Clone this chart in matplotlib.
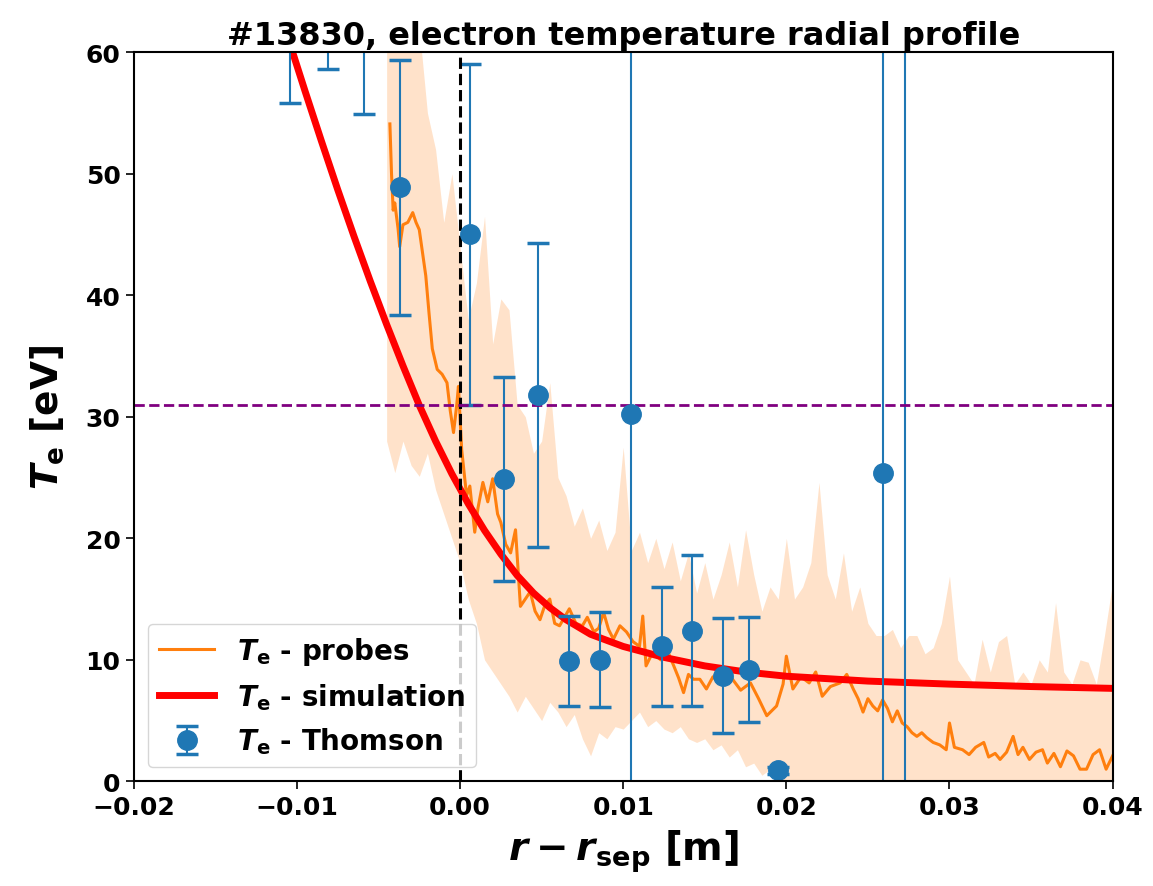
import numpy as np
import matplotlib
matplotlib.use('Agg')
import matplotlib.pyplot as plt

### Data (shot #13830)

# Thomson scattering points: position [m], Te [eV], symmetric error [eV]
thomson_r = [-0.0104, -0.0081, -0.0059, -0.0037, 0.0006, 0.0027, 0.0048, 0.0067, 0.0086,
             0.0105, 0.0124, 0.0142, 0.0161, 0.0177, 0.0195, 0.0259, 0.0273]
thomson_te = [70.0, 66.0, 68.0, 48.9, 45.0, 24.9, 31.8, 9.9, 10.0,
              30.2, 11.1, 12.4, 8.7, 9.2, 0.9, 25.4, 70.0]
thomson_err = [14.2, 7.4, 13.1, 10.5, 14.0, 8.4, 12.5, 3.7, 3.9,
               80.0, 4.9, 6.2, 4.7, 4.3, 0.3, 80.0, 90.0]

# simulation profile
sim_r = [-0.0105, -0.0095, -0.0085, -0.0075, -0.0065, -0.0055, -0.0045, -0.0035, -0.0025, -0.0015,
         -0.0005, 0.0005, 0.0015, 0.0025, 0.0035, 0.0045, 0.0055, 0.0065, 0.0080, 0.0100,
         0.0125, 0.0150, 0.0175, 0.0200, 0.0250, 0.0300, 0.0350, 0.0400]
sim_te = [61.0, 56.8, 52.7, 48.7, 44.85, 41.15, 37.6, 34.2, 30.95, 28.0,
          25.3, 22.85, 20.65, 18.7, 16.95, 15.5, 14.3, 13.3, 12.1, 11.1,
          10.2, 9.5, 9.0, 8.65, 8.25, 8.0, 7.8, 7.65]

# probes, smoothed signal
probe_r = [-0.0043, -0.0042, -0.0041, -0.0040, -0.0038, -0.0037, -0.0035, -0.0032, -0.0029, -0.0027,
           -0.0025, -0.0023, -0.0021, -0.0019, -0.0017, -0.0014, -0.0011, -0.0008, -0.0006, -0.0004,
           -0.0002, -0.0001, 0.0001, 0.0004, 0.0006, 0.0009, 0.0011, 0.0014, 0.0017, 0.0020,
           0.0023, 0.0025, 0.0028, 0.0031, 0.0034, 0.0037, 0.0040, 0.0043, 0.0046, 0.0049,
           0.0052, 0.0055, 0.0058, 0.0061, 0.0064, 0.0067, 0.0071, 0.0075, 0.0078, 0.0082,
           0.0085, 0.0088, 0.0091, 0.0094, 0.0098, 0.0102, 0.0106, 0.0110, 0.0112, 0.0114,
           0.0118, 0.0123, 0.0127, 0.0131, 0.0134, 0.0137, 0.0140, 0.0143, 0.0147, 0.0151,
           0.0155, 0.0159, 0.0163, 0.0167, 0.0172, 0.0178, 0.0183, 0.0188, 0.0194, 0.0198,
           0.0200, 0.0204, 0.0209, 0.0214, 0.0218, 0.0222, 0.0227, 0.0233, 0.0237, 0.0241,
           0.0244, 0.0247, 0.0250, 0.0253, 0.0256, 0.0259, 0.0262, 0.0265, 0.0268, 0.0271,
           0.0274, 0.0277, 0.0280, 0.0283, 0.0286, 0.0290, 0.0294, 0.0298, 0.0300, 0.0303,
           0.0308, 0.0312, 0.0316, 0.0321, 0.0324, 0.0328, 0.0331, 0.0335, 0.0339, 0.0342,
           0.0345, 0.0349, 0.0353, 0.0357, 0.0360, 0.0364, 0.0368, 0.0372, 0.0376, 0.0380,
           0.0384, 0.0388, 0.0392, 0.0396, 0.0400]
probe_te = [54.1, 50.0, 47.0, 47.6, 45.5, 44.0, 45.8, 46.0, 46.8, 46.0,
            45.4, 43.5, 41.6, 38.5, 35.6, 33.9, 33.5, 32.8, 30.5, 28.7,
            31.0, 32.5, 27.3, 23.5, 24.3, 20.5, 22.5, 24.6, 23.0, 24.9,
            22.0, 21.3, 19.5, 18.8, 20.7, 14.4, 15.0, 15.6, 14.0, 13.3,
            14.5, 15.0, 13.0, 12.8, 13.5, 14.2, 13.0, 12.8, 13.5, 12.3,
            12.6, 13.9, 12.5, 11.7, 12.8, 12.3, 11.5, 11.1, 13.6, 9.5,
            10.6, 10.0, 10.8, 9.5, 8.5, 7.3, 8.8, 8.4, 8.4, 7.6,
            8.6, 8.1, 9.0, 8.4, 7.5, 8.1, 6.8, 5.4, 6.2, 8.0,
            10.3, 7.6, 8.6, 8.1, 9.0, 7.0, 7.8, 8.1, 8.8, 7.6,
            6.8, 5.7, 6.8, 6.2, 5.8, 6.7, 6.0, 4.9, 5.8, 4.8,
            4.5, 4.0, 3.7, 4.0, 3.6, 3.2, 3.0, 2.6, 4.8, 2.8,
            2.6, 2.2, 2.8, 3.2, 2.0, 2.3, 1.8, 2.4, 3.7, 2.2,
            2.8, 1.8, 2.4, 2.6, 1.5, 2.3, 1.2, 2.5, 2.1, 1.0,
            1.0, 2.2, 2.6, 1.0, 2.1]

# probes, raw signal spread (upper / lower envelope, every 0.5 mm from -4.5 mm)
band_hi = [62, 62, 62, 62, 62, 55, 52, 46, 50, 44,
           38, 41, 46.5, 36, 39.7, 38.8, 31, 30, 27, 28,
           32.8, 25, 23.5, 21, 22.5, 20, 21.5, 19, 20.5, 27.5,
           19, 20.5, 18, 20, 17.5, 19.7, 16.5, 18.8, 15.5, 18,
           15, 17, 19.7, 16, 20.7, 17, 14, 16, 15, 20,
           15, 16, 18, 24.6, 17, 15, 18.8, 14, 16, 13,
           12, 12, 12.5, 11, 12, 12, 10.5, 11, 13, 16.9,
           10, 9, 8, 11.7, 9, 11.5, 12, 8, 9, 8,
           10, 9, 14.7, 9, 8, 10, 9.8, 8, 12, 16.4]
band_lo = [28, 25.4, 28, 26, 25.1, 27, 24, 22, 20, 18,
           15, 13, 10, 9, 8, 7, 5.7, 7, 6, 5,
           6.5, 5.7, 4.5, 5.5, 3.5, 2.1, 4, 3.5, 4.5, 4.3,
           5, 5.7, 4.5, 5, 4.3, 4, 4.5, 3.5, 3.2, 3.5,
           2.6, 3, 2, 2.6, 1.2, 1.5, 0.5, 1, 0, 0,
           0, 0, 0, 0, 0, 0, 0, 0, 0, 0,
           0, 0, 0, 0, 0, 0, 0, 0, 0, 0,
           0, 0, 0, 0, 0, 0, 0, 0, 0, 0,
           0, 0, 0, 0, 0, 0, 0, 0, 0, 0]
band_r = np.linspace(-0.0045, 0.04, len(band_hi))

te_threshold = 31.0  # horizontal reference level [eV]

### Plot
plt.rcParams['font.weight'] = 'bold'
plt.rcParams['axes.labelweight'] = 'bold'
plt.rcParams['axes.titleweight'] = 'bold'
plt.rcParams['mathtext.fontset'] = 'dejavusans'

fig, ax = plt.subplots(figsize=(11.53, 8.87), dpi=100)
fig.subplots_adjust(left=0.116, right=0.965, bottom=0.118, top=0.940)

ax.fill_between(band_r, band_lo, band_hi, color='C1', alpha=0.22, lw=0)
ax.plot(probe_r, probe_te, color='C1', lw=2.2, label=r'$\mathbfit{T}_\mathbf{e}$ - probes')
ax.plot(sim_r, sim_te, color='red', lw=5, label=r'$\mathbfit{T}_\mathbf{e}$ - simulation')
ax.errorbar(thomson_r, thomson_te, yerr=thomson_err, fmt='o', color='C0', ms=14,
            capsize=8, capthick=2.5, elinewidth=1.5, label=r'$\mathbfit{T}_\mathbf{e}$ - Thomson')

ax.axvline(0, color='black', ls='--', lw=2.2)
ax.axhline(te_threshold, color='purple', ls='--', lw=2)

ax.set_xlim(-0.02, 0.04)
ax.set_ylim(0, 60)
ax.set_xticks([-0.02, -0.01, 0.0, 0.01, 0.02, 0.03, 0.04])
ax.set_yticks([0, 10, 20, 30, 40, 50, 60])
ax.tick_params(axis='both', which='major', labelsize=18, length=6, width=1.2)
for s in ax.spines.values():
    s.set_linewidth(1.5)

ax.set_title('#13830, electron temperature radial profile', fontsize=23)
ax.set_xlabel(r'$\mathbfit{r} - \mathbfit{r}_\mathbf{sep}$ [m]', fontsize=28, labelpad=6)
ax.set_ylabel(r'$\mathbfit{T}_\mathbf{e}$ [eV]', fontsize=27, labelpad=14)
ax.legend(loc='lower left', fontsize=20)

fig.savefig('out.png', dpi=100)
